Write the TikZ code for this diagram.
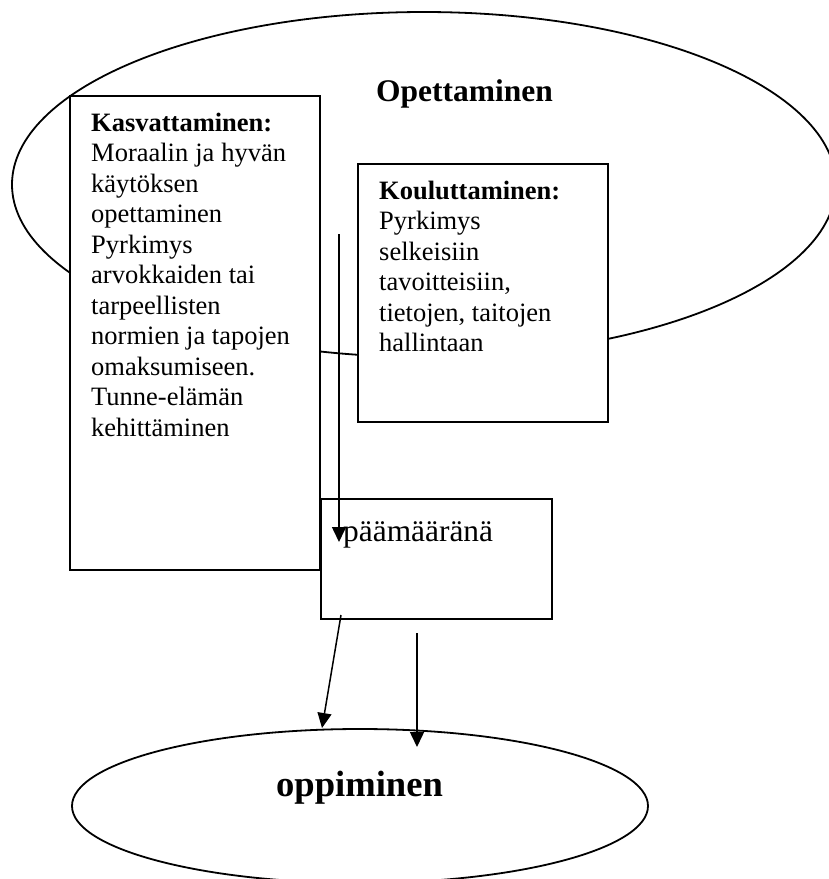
\documentclass[tikz,border=0pt]{standalone}
\usepackage{fontspec}
\setmainfont{Liberation Serif}
\usetikzlibrary{shapes.geometric,arrows.meta}

\tikzset{
  oval/.style={draw, ellipse, line width=1.8pt, inner sep=0pt, outer sep=0pt},
  box/.style={draw, fill=white, rectangle, line width=1.8pt, inner sep=0pt, outer sep=0pt, anchor=north west},
  arr/.style={line width=1.5pt, -{Triangle[length=15pt,width=14pt]}},
  body/.style={anchor=base west, inner sep=0pt, font=\fontsize{26.5}{30.5}\selectfont},
}

\begin{document}
\begin{tikzpicture}[x=1pt, y=-1pt]
\useasboundingbox (0,0) rectangle (829,879);

% outer theme: teaching
\node[oval, minimum width=824pt, minimum height=345pt] (opet) at (424,184.5) {};
\node[anchor=base, inner sep=0pt, font=\fontsize{31.5}{36}\selectfont\bfseries] (opetlbl) at (464.5,101) {Opettaminen};

% upbringing and training boxes
\node[box, minimum width=250pt, minimum height=474pt] (kas) at (70,96) {};
\node[box, minimum width=250pt, minimum height=258pt] (kou) at (358,164) {};

\node[body] (kastxt) at (91,131) {\parbox[t]{225pt}{\raggedright
  \textbf{Kasvattaminen:}\\
  \makebox[195pt][s]{Moraalin ja hyvän}\\
  käytöksen\\
  opettaminen\\
  Pyrkimys\\
  arvokkaiden tai\\
  tarpeellisten\\
  normien ja tapojen\\
  omaksumiseen.\\
  Tunne-elämän\\
  kehittäminen}};

\node[body] (koutxt) at (379,199) {\parbox[t]{225pt}{\raggedright
  \textbf{Kouluttaminen:}\\
  Pyrkimys\\
  selkeisiin\\
  tavoitteisiin,\\
  tietojen, taitojen\\
  hallintaan}};

% goal box
\node[box, minimum width=231pt, minimum height=120pt] (paa) at (321,499) {};
\node[anchor=base west, inner sep=0pt, font=\fontsize{31.4}{36}\selectfont] (paatxt) at (343,541) {päämääränä};

% learning
\node[oval, minimum width=576pt, minimum height=154pt] (oppi) at (360,806) {};
\node[anchor=base, inner sep=0pt, font=\fontsize{36.6}{42}\selectfont\bfseries] (oppilbl) at (359.5,796) {oppiminen};

% arrows
\coordinate (v1s) at (339,234);
\coordinate (v1e) at (339,542);
\coordinate (a2s) at (341,615);
\coordinate (a2e) at (322,728);
\coordinate (a3s) at (417,633);
\coordinate (a3e) at (417,747);
\draw[arr] (v1s) -- (v1e);
\draw[arr] (a2s) -- (a2e);
\draw[arr] (a3s) -- (a3e);
\end{tikzpicture}
\end{document}
